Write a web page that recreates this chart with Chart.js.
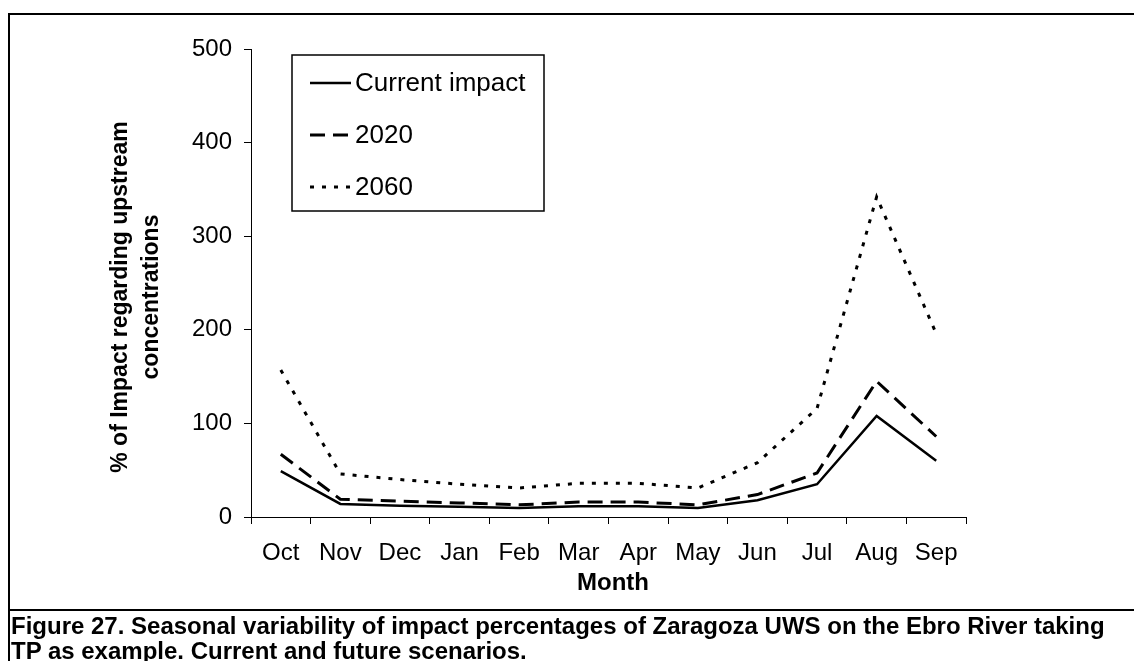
<!DOCTYPE html>
<html>
<head>
<meta charset="utf-8">
<script src="https://cdn.jsdelivr.net/npm/chart.js@4.4.1/dist/chart.umd.min.js"></script>
<style>
  html, body { margin: 0; padding: 0; background: #fff; }
  #wrap { position: relative; width: 1134px; height: 661px; overflow: hidden; }
  #chart { position: absolute; left: 0; top: 0; }
  .frameTop { position: absolute; left: 8px; top: 13px; width: 1200px; height: 2px; background: #000; }
  .frameLeft { position: absolute; left: 8px; top: 13px; width: 2px; height: 700px; background: #000; }
  .frameMid { position: absolute; left: 8px; top: 609px; width: 1200px; height: 2px; background: #000; }
  #caption {
    position: absolute; left: 11px; top: 613px;
    font-family: "Liberation Sans", Arial, sans-serif; font-weight: bold;
    font-size: 24px; line-height: 25px; color: #000; white-space: nowrap;
  }
</style>
</head>
<body>
<div id="wrap">
  <canvas id="chart" width="1134" height="661"></canvas>
  <div class="frameTop"></div>
  <div class="frameLeft"></div>
  <div class="frameMid"></div>
  <div id="caption">Figure 27. Seasonal variability of impact percentages of Zaragoza UWS on the Ebro River taking<br>TP as example. Current and future scenarios.</div>
</div>
<script>
const months = ['Oct', 'Nov', 'Dec', 'Jan', 'Feb', 'Mar', 'Apr', 'May', 'Jun', 'Jul', 'Aug', 'Sep'];
const currentImpact = [49, 14, 12, 11, 9.5, 11.5, 11.5, 9.5, 18, 35, 108, 60];
const impact2020 = [67, 19, 17, 15, 13, 16, 16, 13, 24, 47, 145, 86];
const impact2060 = [157, 46, 40, 35, 31, 36, 36, 31, 58, 116, 342, 196];
const yTicks = [0, 100, 200, 300, 400, 500];

const FONT = '"Liberation Sans", Arial, sans-serif';

// legend box + axis titles drawn on top
const extras = {
    id: 'extras',
    afterDraw(chart) {
        const ctx = chart.ctx;
        ctx.save();
        ctx.fillStyle = '#000';
        ctx.strokeStyle = '#000';

        // y title
        ctx.font = 'bold 23px ' + FONT;
        ctx.textAlign = 'center';
        ctx.textBaseline = 'middle';
        ctx.save();
        ctx.translate(121, 297);
        ctx.rotate(-Math.PI / 2);
        ctx.fillText('% of Impact regarding upstream', 0, 0);
        ctx.restore();
        ctx.save();
        ctx.translate(152, 297);
        ctx.rotate(-Math.PI / 2);
        ctx.fillText('concentrations', 0, 0);
        ctx.restore();

        // x title
        ctx.font = 'bold 24px ' + FONT;
        ctx.fillText('Month', 613, 583);

        // legend
        ctx.lineWidth = 1.5;
        ctx.setLineDash([]);
        ctx.strokeRect(292, 55, 252, 156);
        const rows = [83, 135, 187];
        ctx.font = '26px ' + FONT;
        ctx.textAlign = 'left';
        chart.data.datasets.forEach((ds, i) => {
            ctx.beginPath();
            ctx.lineWidth = ds.borderWidth;
            ctx.setLineDash(ds.borderDash || []);
            ctx.moveTo(310, rows[i]);
            ctx.lineTo(351, rows[i]);
            ctx.stroke();
            ctx.fillText(ds.label, 355, rows[i] + 1);
        });
        ctx.restore();
    }
};

new Chart(document.getElementById('chart'), {
    type: 'line',
    data: {
        labels: months,
        datasets: [
            { label: 'Current impact', data: currentImpact, borderColor: '#000', borderWidth: 2.5, borderDash: [] },
            { label: '2020', data: impact2020, borderColor: '#000', borderWidth: 3, borderDash: [15, 8] },
            { label: '2060', data: impact2060, borderColor: '#000', borderWidth: 3, borderDash: [4, 8] }
        ]
    },
    options: {
        responsive: false,
        animation: false,
        layout: { padding: { left: 0, right: 168, top: 49, bottom: 0 } },
        elements: { point: { radius: 0 }, line: { tension: 0 } },
        plugins: { legend: { display: false }, tooltip: { enabled: false } },
        scales: {
            x: {
                offset: true,
                afterFit: (s) => { s.height = 144; },
                grid: { offset: true, drawOnChartArea: false, tickLength: 7, color: '#000' },
                border: { color: '#000', width: 1 },
                ticks: { color: '#000', font: { family: FONT, size: 24 }, padding: 15, maxRotation: 0, autoSkip: false }
            },
            y: {
                min: 0,
                max: 500,
                afterFit: (s) => { s.width = 251; },
                afterBuildTicks: (s) => { s.ticks = yTicks.map(v => ({ value: v })); },
                grid: { drawOnChartArea: false, tickLength: 7, color: '#000' },
                border: { color: '#000', width: 1 },
                ticks: { color: '#000', font: { family: FONT, size: 24 }, padding: 12 }
            }
        }
    },
    plugins: [extras]
});
</script>
</body>
</html>
